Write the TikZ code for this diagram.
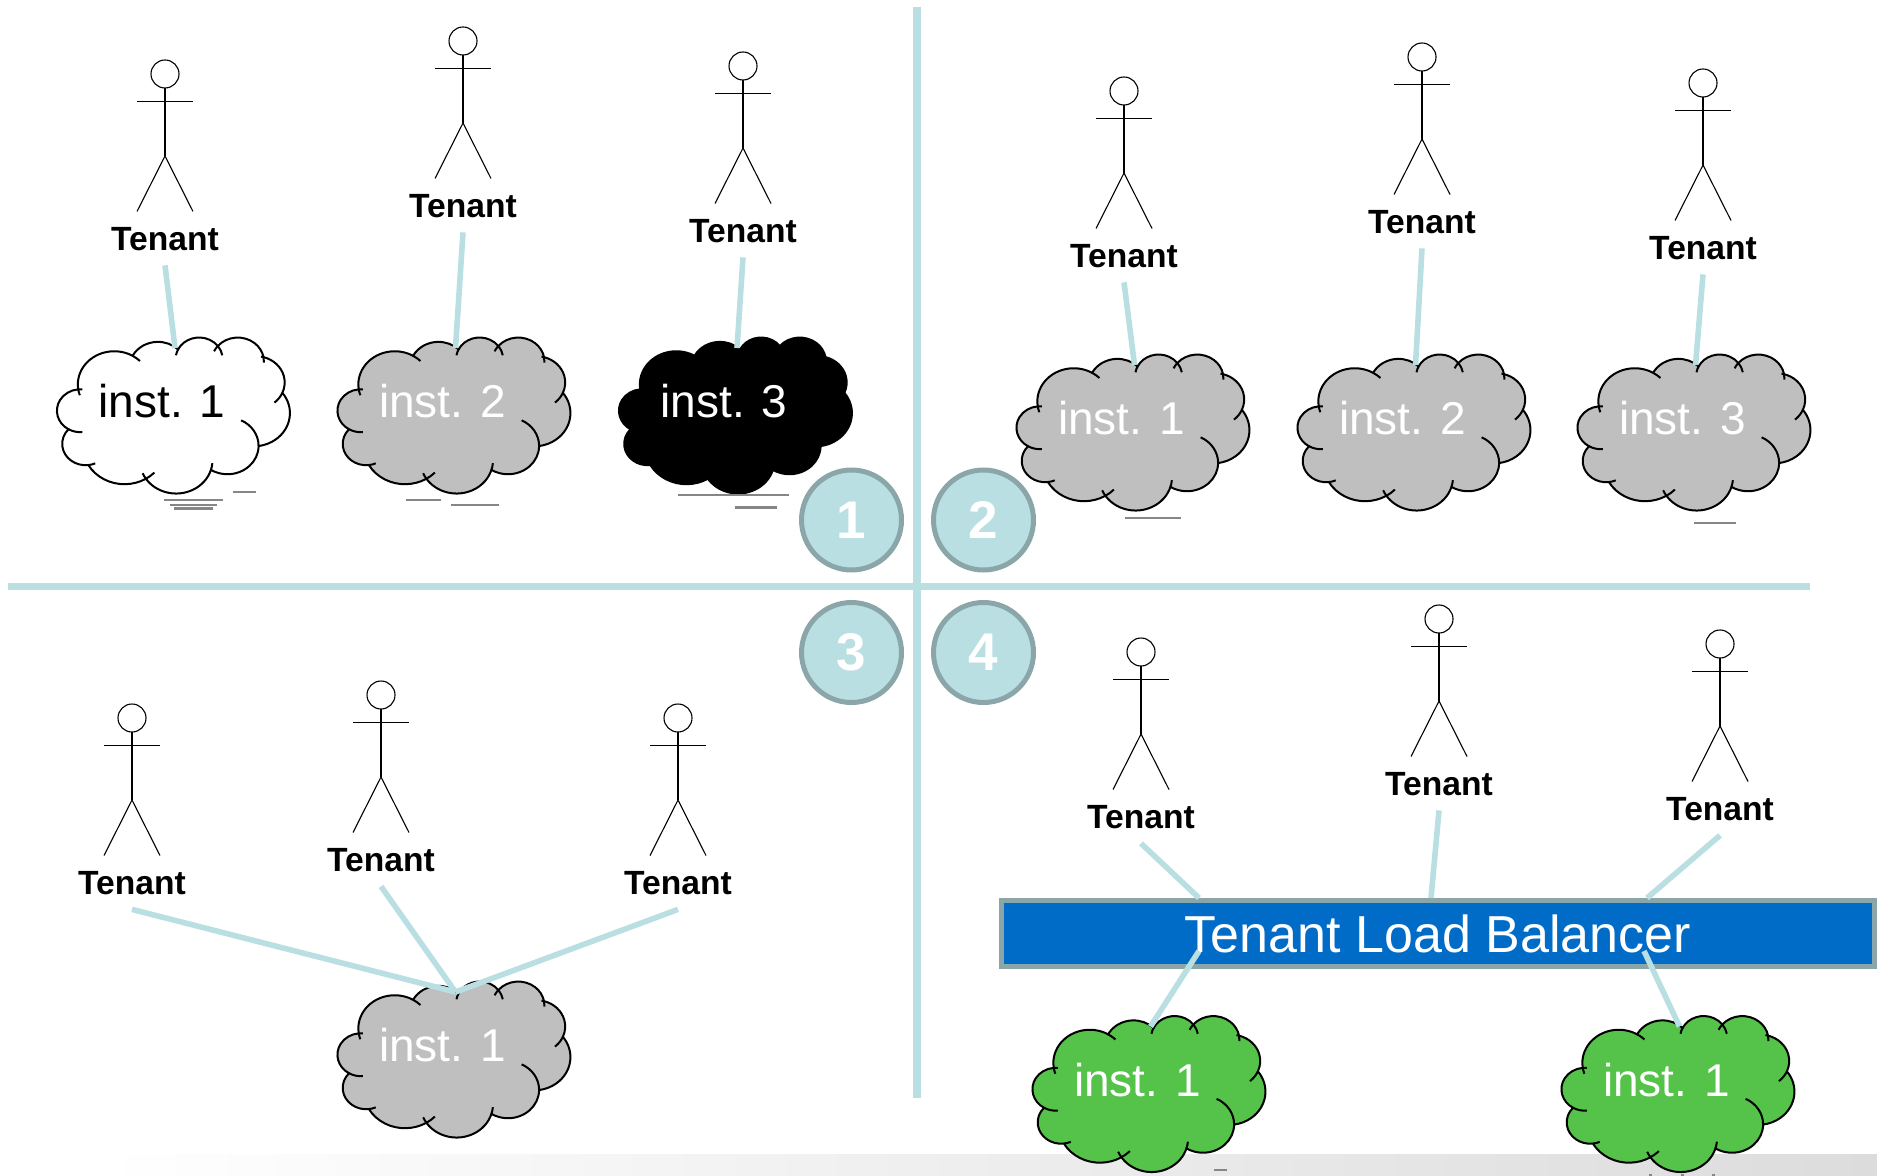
\documentclass[tikz,border=0pt]{standalone}
\usepackage{fontspec}
\setmainfont{Liberation Sans}
\definecolor{linkteal}{HTML}{B9DFE3}
\definecolor{ringteal}{HTML}{8AA6A9}
\definecolor{cloudgray}{HTML}{BFBFBF}
\definecolor{cloudgreen}{HTML}{55C24A}
\definecolor{lbblue}{HTML}{006CC8}
\definecolor{markgray}{HTML}{868686}
\definecolor{bandgray}{HTML}{DCDCDC}

\begin{document}
\begin{tikzpicture}[
    x=0.5pt, y=-0.5pt,
    axis line/.style={linkteal, line width=3.8pt},
    link/.style={linkteal, line width=2.8pt},
    mark line/.style={markgray, line width=0.8pt},
    mark thick/.style={markgray, line width=1.5pt},
    inst cloud/.style={draw=black, line width=1pt, fill=#1},
    inst label/.style={font=\fontsize{23}{27}\selectfont, inner sep=0pt},
    tenant label/.style={font=\fontsize{16.8}{20}\selectfont\bfseries, inner sep=0pt, minimum height=26pt},
    stage ring/.style={circle, draw=ringteal, fill=linkteal, line width=2.5pt, inner sep=0pt, minimum size=50pt,
        text=white, font=\fontsize{26.5}{30}\selectfont\bfseries},
    balancer/.style={draw=ringteal, fill=lbblue, line width=2.5pt, inner sep=0pt, minimum width=436.75pt,
        minimum height=33pt, text=white, font=\fontsize{26}{30}\selectfont},
    actor/.pic={
        \draw[line width=0.55pt] (0,0) circle[radius=14];
        \draw[line width=0.55pt] (0,14) -- (0,82);
        \draw[line width=0.55pt] (-28,27.5) -- (28,27.5);
        \draw[line width=0.55pt] (-28,137.5) -- (0,82) -- (28,137.5);
    },
    cloud shape/.pic={
        \begin{scope}[x=2.693pt, y=1.805pt]
            \path[pic actions] (-17.7,7.23)
                arc[start angle=187.74, end angle=59.65, x radius=6.753, y radius=9.190]
                arc[start angle=152.03, end angle=45.46, x radius=5.333, y radius=7.267]
                arc[start angle=153.48, end angle=37.33, x radius=4.365, y radius=5.945]
                arc[start angle=139.71, end angle=10.21, x radius=4.857, y radius=6.595]
                arc[start angle=74.77, end angle=-23.21, x radius=5.333, y radius=7.273]
                arc[start angle=37.53, end angle=-81.87, x radius=6.775, y radius=9.220]
                arc[start angle=-0.46, end angle=-122, x radius=5.785, y radius=7.867]
                arc[start angle=-16.85, end angle=-146.24, x radius=6.752, y radius=9.215]
                arc[start angle=-58.98, end angle=-150.18, x radius=7.720, y radius=10.543]
                arc[start angle=-83.31, end angle=-223.09, x radius=4.360, y radius=5.918]
                arc[start angle=-120.33, end angle=-264.12, x radius=4.345, y radius=5.945]
                -- cycle;
            % small ticks inside the outline
            \foreach \cx/\cy/\rx/\ry/\sa/\ea in {
                -17.297/1.184/4.345/5.945/-85/-120.33,
                -17.297/1.184/4.345/5.945/-264/-275,
                -16.309/-7.991/4.360/5.918/-66/-83.31,
                0.489/-12.541/6.752/9.215/-146.24/-157,
                -9.103/-8.627/7.720/10.543/-44/-58.98,
                0.489/-12.541/6.752/9.215/-5/-16.85,
                10.016/-8.541/5.785/7.867/64/-0.46,
                15.315/9.006/5.333/7.273/-23.21/-50,
                11.936/14.855/4.857/6.595/10.21/-3,
                15.315/9.006/5.333/7.273/74.77/80,
                11.936/14.855/4.857/6.595/155/139.71,
                4.76/15.515/4.365/5.945/37.33/10,
                4.76/15.515/4.365/5.945/170/153.48,
                -11.009/8.468/6.753/9.190/59.65/45,
                -11.009/8.468/6.753/9.190/187.74/199}
                \draw[line width=1pt] (\cx,\cy) ++({\rx*cos(\sa)},{\ry*sin(\sa)})
                    arc[start angle=\sa, end angle=\ea, x radius=\rx, y radius=\ry];
            \coordinate (-top) at (0.28,18.56);
        \end{scope}
    }
]

\useasboundingbox (0,0) rectangle (1877,1176);

% Bottom band
\shade[left color=white, right color=bandgray] (100,1154) rectangle (1877,1176);

% Quadrant Lines
\draw[axis line] (917,7) -- (917,1098);
\draw[axis line] (8,586.5) -- (1810,586.5);

% Stage Numbers
\node[stage ring] (s1) at (851.5,520) {1};
\node[stage ring] (s2) at (983.5,520) {2};
\node[stage ring] (s3) at (851.5,652.5) {3};
\node[stage ring] (s4) at (983.5,652.5) {4};

% Tenants
\foreach \name/\x/\y in {
    t1/165/74, t2/463/41, t3/743/66,
    t4/1124/91, t5/1422/57, t6/1703/83,
    t7/132/718, t8/381/695, t9/678/718,
    t10/1141/652, t11/1439/619, t12/1720/644}{
    \pic at (\x,\y) {actor};
    \node[tenant label] (\name) at (\x,\y+165) {Tenant};
}

% Instances
\foreach \name/\x/\y/\col/\txt/\lab in {
    c1/173.5/415/white/black/inst. 1,
    c2/454/415/cloudgray/white/inst. 2,
    c3/735.5/415/black/white/inst. 3,
    c4/1133/432/cloudgray/white/inst. 1,
    c5/1414/432/cloudgray/white/inst. 2,
    c6/1694/432/cloudgray/white/inst. 3,
    c7/454/1059/cloudgray/white/inst. 1,
    c8/1149/1093.5/cloudgreen/white/inst. 1,
    c9/1678/1093.5/cloudgreen/white/inst. 1}{
    \pic[inst cloud=\col] (\name) at (\x,\y) {cloud shape};
    \node[inst label, text=\txt] (\name-label) at (\x-11.5,\y-13.5) {\lab};
}

% Load Balancer
\node[balancer] (lb) at (1437.75,933.5) {Tenant Load Balancer};
\coordinate (lb in1) at (1199,898);
\coordinate (lb in2) at (1431,898);
\coordinate (lb in3) at (1647,898);
\coordinate (lb out1) at (1199,951);
\coordinate (lb out2) at (1644,951);

% Connections
\foreach \a/\b in {t1/c1, t2/c2, t3/c3, t4/c4, t5/c5, t6/c6, t7/c7, t8/c7, t9/c7}
    \draw[link] (\a.south) -- (\b-top);
\draw[link] (t10.south) -- (lb in1);
\draw[link] (t11.south) -- (lb in2);
\draw[link] (t12.south) -- (lb in3);
\draw[link] (lb out1) -- (c8-top);
\draw[link] (lb out2) -- (c9-top);

% Stray Marks
\foreach \xa/\xb/\ya in {164/222.5/500, 170/216.6/504.7, 233/256/491.7, 406/441/500, 451/499/504.7,
    678/789/494.7, 1125/1181/518, 1694/1736/523, 1214/1227/1170,
    1649/1652/1175, 1681/1684/1175, 1712/1715/1175}
    \draw[mark line] (\xa,\ya) -- (\xb,\ya);
\draw[mark thick] (174,508.3) -- (212.6,508.3);
\draw[mark thick] (735,507.7) -- (777,507.7);

\end{tikzpicture}
\end{document}
